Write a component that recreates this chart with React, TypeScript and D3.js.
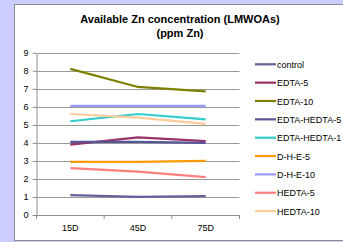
import { useEffect, useRef } from 'react';
import * as d3 from 'd3';

const categories = ['15D', '45D', '75D'];
const seriesNames = [
  'control', 'EDTA-5', 'EDTA-10', 'EDTA-HEDTA-5', 'EDTA-HEDTA-10',
  'D-H-E-5', 'D-H-E-10', 'HEDTA-5', 'HEDTA-10',
];
const legendLabels = [
  'control', 'EDTA-5', 'EDTA-10', 'EDTA-HEDTA-5', 'EDTA-HEDTA-1',
  'D-H-E-5', 'D-H-E-10', 'HEDTA-5', 'HEDTA-10',
];
const control = [1.1, 1.0, 1.05];
const edta5 = [3.9, 4.3, 4.1];
const edta10 = [8.1, 7.1, 6.85];
const edtaHedta5 = [4.05, 4.05, 4.0];
const edtaHedta10 = [5.2, 5.6, 5.3];
const dhe5 = [2.95, 2.95, 3.0];
const dhe10 = [6.05, 6.05, 6.05];
const hedta5 = [2.6, 2.4, 2.1];
const hedta10 = [5.6, 5.4, 5.05];
const seriesValues = [control, edta5, edta10, edtaHedta5, edtaHedta10, dhe5, dhe10, hedta5, hedta10];
const colors = ['#62629a', '#993366', '#808000', '#555597', '#33cccc', '#ff9900', '#9999ff', '#ff7f7f', '#ffcc99'];
const yTicks = [0, 1, 2, 3, 4, 5, 6, 7, 8, 9];

function App() {
  const ref = useRef<SVGSVGElement>(null);

  useEffect(() => {
    const svg = d3.select(ref.current);
    svg.selectAll('*').remove();
    const W = 343, H = 242;
    const font = '"Liberation Sans", Arial, sans-serif';

    svg.append('rect').attr('width', W).attr('height', H).attr('fill', '#ccccff');
    svg.append('rect').attr('x', 14.5).attr('y', 4.5).attr('width', 340).attr('height', 236)
      .attr('fill', '#fff').attr('stroke', '#8c8c8c').attr('stroke-width', 1);

    // Title
    const title = svg.append('text').attr('text-anchor', 'middle')
      .style('font-family', font).style('font-weight', 'bold').style('font-size', '11px').attr('fill', '#000');
    title.append('tspan').attr('x', 180).attr('y', 23).text('Available Zn concentration (LMWOAs)');
    title.append('tspan').attr('x', 180).attr('y', 37).text('(ppm Zn)');

    const left = 36.5, right = 239.5, top = 52.7, bottom = 215;
    const x = d3.scaleBand().domain(categories).range([left, right]);
    const y = d3.scaleLinear().domain([0, 9]).range([bottom, top]);

    // Gridlines
    svg.append('g').selectAll('line').data(yTicks.slice(1)).enter().append('line')
      .attr('x1', left).attr('x2', right)
      .attr('y1', d => Math.round(y(d)) + 0.5).attr('y2', d => Math.round(y(d)) + 0.5)
      .attr('stroke', '#9a9a9a').attr('stroke-width', 1);

    // Y axis
    const yAxis = svg.append('g').attr('transform', `translate(${left},0)`)
      .call(d3.axisLeft(y).tickValues(yTicks).tickSize(4).tickSizeOuter(0));
    yAxis.select('.domain').attr('stroke', '#8c8c8c');
    yAxis.selectAll('.tick line').attr('stroke', '#8c8c8c');
    yAxis.selectAll('text').style('font-family', font).style('font-size', '9px').attr('fill', '#000').attr('x', -8);

    // X axis
    const xAxis = svg.append('g').attr('transform', `translate(0,${bottom})`)
      .call(d3.axisBottom(x).tickSize(0).tickSizeOuter(0));
    xAxis.select('.domain').attr('stroke', '#8c8c8c');
    xAxis.selectAll('text').style('font-family', font).style('font-size', '9px').attr('fill', '#000').attr('dy', '1.1em').attr('y', 6.5);
    const edges = [left, ...categories.map(c => (x(c) as number) + x.bandwidth())];
    svg.append('g').selectAll('line').data(edges).enter().append('line')
      .attr('x1', d => d).attr('x2', d => d).attr('y1', bottom).attr('y2', bottom + 4)
      .attr('stroke', '#8c8c8c');

    // Lines
    const line = d3.line<number>()
      .x((_, i) => (x(categories[i]) as number) + x.bandwidth() / 2)
      .y(d => y(d));
    svg.append('g').selectAll('path').data(seriesValues).enter().append('path')
      .attr('d', d => line(d))
      .attr('fill', 'none')
      .attr('stroke', (_, i) => colors[i])
      .attr('stroke-width', 2.2);

    // Legend
    const lg = svg.append('g').selectAll('g').data(seriesNames).enter().append('g')
      .attr('transform', (_, i) => `translate(255,${64.3 + i * 18.35})`);
    lg.append('line').attr('x1', 0).attr('x2', 21).attr('y1', 0).attr('y2', 0)
      .attr('stroke', (_, i) => colors[i]).attr('stroke-width', 2.2);
    lg.append('text').attr('x', 22).attr('y', 3.5)
      .style('font-family', font).style('font-size', '9px').attr('fill', '#000')
      .text((_, i) => legendLabels[i]);
  }, []);

  return <svg ref={ref} width={343} height={242} style={{ position: 'absolute', left: 0, top: 0, display: 'block' }} />;
}

export default App;
